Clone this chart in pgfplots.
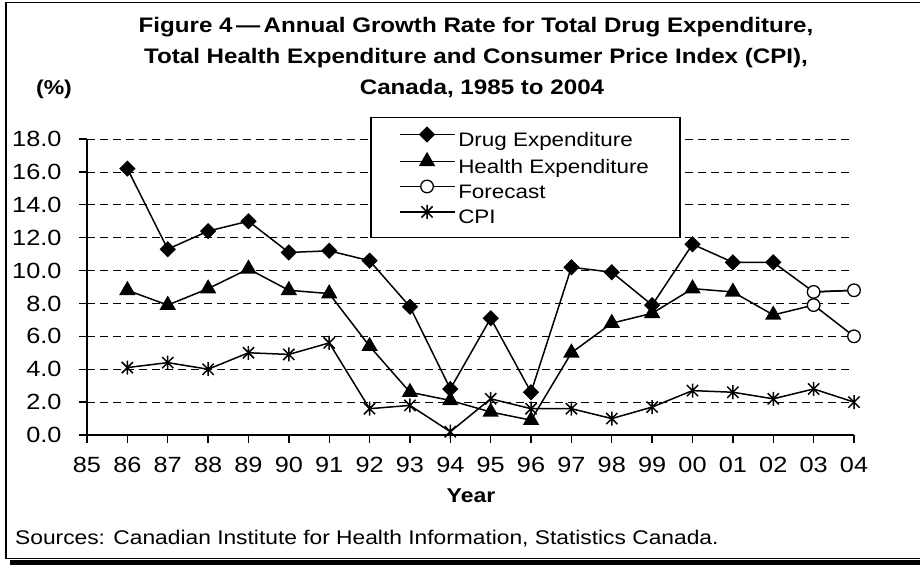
\documentclass[border=0pt]{standalone}
\usepackage{fontspec}
\setmainfont{Liberation Sans}[FakeStretch=1.15]
\usepackage{pgfplots}
\pgfplotsset{compat=1.18}

% Excel style star: vertical bar plus a cross
\pgfdeclareplotmark{xlstar}{%
  \pgfpathmoveto{\pgfqpoint{0pt}{\pgfplotmarksize}}%
  \pgfpathlineto{\pgfqpoint{0pt}{-\pgfplotmarksize}}%
  \pgfpathmoveto{\pgfqpoint{-.8\pgfplotmarksize}{.8\pgfplotmarksize}}%
  \pgfpathlineto{\pgfqpoint{.8\pgfplotmarksize}{-.8\pgfplotmarksize}}%
  \pgfpathmoveto{\pgfqpoint{-.8\pgfplotmarksize}{-.8\pgfplotmarksize}}%
  \pgfpathlineto{\pgfqpoint{.8\pgfplotmarksize}{.8\pgfplotmarksize}}%
  \pgfusepathqstroke}

\begin{document}
\begin{tikzpicture}
\path[use as bounding box] (0pt,0pt) rectangle (920pt,565pt);

% frame with shadow
\draw[line width=1.8pt] (920pt,562.5pt) -- (6pt,562.5pt) -- (6pt,6.5pt) -- (920pt,6.5pt);
\fill (10pt,0pt) rectangle (920pt,5pt);

\begin{axis}[
    at={(87pt,130pt)}, anchor=south west,
    scale only axis,
    width=767pt, height=296pt,
    xmin=0, xmax=19, ymin=0, ymax=18,
    clip=false,
    axis lines=left,
    axis line style={-, line width=1.6pt},
    xtick={0,...,19},
    xticklabels={85,86,87,88,89,90,91,92,93,94,95,96,97,98,99,00,01,02,03,04},
    ytick={0,2,...,18},
    tick align=outside,
    major tick length=8pt,
    tick style={line width=1.4pt, black},
    ymajorgrids,
    major grid style={black, line width=0.7pt, dash pattern=on 8pt off 5pt},
    /pgf/number format/assume math mode=true,
    yticklabel style={/pgf/number format/fixed, /pgf/number format/fixed zerofill,
        /pgf/number format/precision=1, xshift=-14pt},
    xticklabel style={yshift=-11pt},
    tick label style={font=\fontsize{22}{24}\selectfont},
    legend cell align=left,
    legend image code/.code={%
        \draw[mark repeat=2,mark phase=2,#1] plot coordinates {(0pt,6pt) (27.5pt,6pt) (55pt,6pt)};},
    legend style={at={(0.369,1.0753)}, anchor=north west,
        draw=black, line width=1.5pt, fill=white,
        font=\fontsize{19.5}{22}\selectfont,
        inner xsep=28pt, inner ysep=10pt, row sep=3pt,
        nodes={inner xsep=3pt}},
    every axis plot/.append style={black, line width=1.5pt},
]

\addplot[mark=square*, mark size=5pt, mark options={rotate=45, fill=black}]
    coordinates {(1,16.2) (2,11.3) (3,12.4) (4,13.0) (5,11.1) (6,11.2) (7,10.6)
    (8,7.8) (9,2.8) (10,7.1) (11,2.6) (12,10.2) (13,9.9) (14,7.9) (15,11.6)
    (16,10.5) (17,10.5)};
\addlegendentry{Drug Expenditure}

\addplot[mark=triangle*, mark size=8pt, mark options={fill=black}]
    coordinates {(1,8.8) (2,7.9) (3,8.9) (4,10.1) (5,8.8) (6,8.6) (7,5.4)
    (8,2.6) (9,2.1) (10,1.4) (11,0.9) (12,5.0) (13,6.8) (14,7.4) (15,8.9)
    (16,8.7) (17,7.3)};
\addlegendentry{Health Expenditure}

% forecast segments
\addplot[no marks, forget plot] coordinates {(17,10.5) (18,8.7) (19,8.8)};
\addplot[no marks, forget plot] coordinates {(17,7.3) (18,7.9) (19,6.0)};

\addplot[mark=*, mark size=6.3pt, mark options={fill=white, line width=1.3pt}]
    coordinates {(18,8.7) (19,8.8)};
\addlegendentry{Forecast}
\addplot[only marks, forget plot, mark=*, mark size=6.3pt, mark options={fill=white, line width=1.3pt}]
    coordinates {(18,7.9) (19,6.0)};

\addplot[mark=xlstar, mark size=7pt, mark options={line width=1.5pt}]
    coordinates {(1,4.1) (2,4.4) (3,4.0) (4,5.0) (5,4.9) (6,5.6) (7,1.6)
    (8,1.8) (9,0.2) (10,2.2) (11,1.6) (12,1.6) (13,1.0) (14,1.7) (15,2.7)
    (16,2.6) (17,2.2) (18,2.8) (19,2.0)};
\addlegendentry{CPI}
\end{axis}

% titles and notes
\begin{scope}[every node/.style={inner sep=0pt, anchor=base}]
\node at (476pt,532pt) {\fontsize{21}{24}\selectfont\bfseries Figure 4\,—\,Annual Growth Rate for Total Drug Expenditure,};
\node at (476pt,501.5pt) {\fontsize{21}{24}\selectfont\bfseries Total Health Expenditure and Consumer Price Index (CPI),};
\node at (482pt,470pt) {\fontsize{21}{24}\selectfont\bfseries Canada, 1985 to 2004};
\node at (54pt,470pt) {\fontsize{20}{24}\selectfont\bfseries (\%)};
\node at (471pt,63pt) {\fontsize{20}{24}\selectfont\bfseries Year};
\node[anchor=base west] at (15pt,21pt) {\fontsize{19.8}{24}\selectfont Sources: Canadian Institute for Health Information, Statistics Canada.};
\end{scope}
\end{tikzpicture}
\end{document}
